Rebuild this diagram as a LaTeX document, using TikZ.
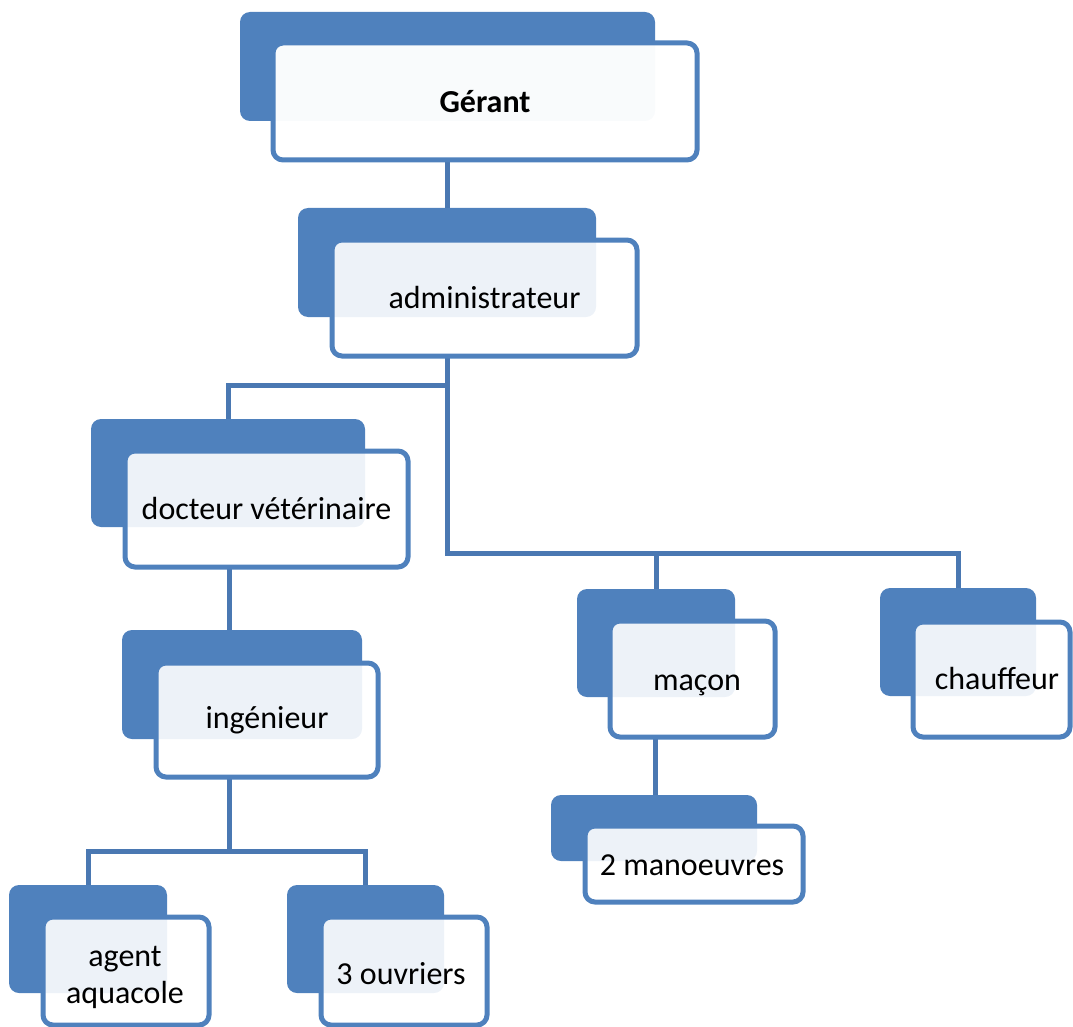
\documentclass[tikz,border=0pt]{standalone}
\usepackage{fontspec}
\setmainfont{Carlito}
\definecolor{boxblue}{HTML}{4F81BD}
\definecolor{lineblue}{HTML}{4A78B2}
\tikzset{
  backbox/.style={fill=boxblue, rounded corners=10pt, inner sep=0pt, outer sep=0pt, anchor=north west},
  frontbox/.style={draw=boxblue, line width=5pt, fill=white, fill opacity=0.9, text opacity=1, draw opacity=1,
     rounded corners=10pt, inner sep=0pt, outer sep=0pt, align=center, anchor=north west,
     font=\fontsize{32}{37}\selectfont},
  txt/.style={inner sep=0pt, align=center, font=\fontsize{32}{37}\selectfont},
  conn/.style={draw=lineblue, line width=5pt}
}
\begin{document}
\begin{tikzpicture}[x=1pt,y=-1pt]
\useasboundingbox (0,0) rectangle (1073,1027);
% back boxes
\node[backbox, minimum width=415pt, minimum height=109pt] (gb) at (240,12) {};
\node[backbox, minimum width=298pt, minimum height=109pt] (ab) at (298,208) {};
\node[backbox, minimum width=274pt, minimum height=108pt] (db) at (91,419) {};
\node[backbox, minimum width=240pt, minimum height=109pt] (ib) at (122,630) {};
\node[backbox, minimum width=158pt, minimum height=108pt] (mb) at (577,589) {};
\node[backbox, minimum width=156pt, minimum height=108pt] (cb) at (880,588) {};
\node[backbox, minimum width=206pt, minimum height=66pt] (mmb) at (551,795) {};
\node[backbox, minimum width=158pt, minimum height=108pt] (agb) at (9,885) {};
\node[backbox, minimum width=157pt, minimum height=108pt] (ob) at (287,885) {};
% helper coordinates
\coordinate (t1) at (447,0);
\coordinate (t2) at (229,0);
\coordinate (t3) at (655,0);
\coordinate (bus1) at (0,385);
\coordinate (bus2) at (0,553);
\coordinate (bus3) at (0,851);
\coordinate (gbot) at (447,160);
\coordinate (abot) at (447,356);
\coordinate (dbot) at (229,567);
\coordinate (ibot) at (229,777);
\coordinate (mbot) at (655,737);
% connectors (behind the front boxes)
\draw[conn] (gbot) -- (ab.north -| t1);
\draw[conn] (abot) -- (t1 |- bus2) -| (cb.north);
\draw[conn] (t1 |- bus2) -| (mb.north);
\draw[conn] (t1 |- bus1) -| (db.north);
\draw[conn] (dbot) -- (ib.north -| t2);
\draw[conn] (ibot) -- (t2 |- bus3) -| (agb.north);
\draw[conn] (t2 |- bus3) -| (ob.north);
\draw[conn] (mbot) -- (mmb.north -| t3);
% front boxes
\node[frontbox, fill opacity=0.97, minimum width=424pt, minimum height=117pt, font=\fontsize{32}{37}\selectfont\bfseries] (g) at (273,43) {Gérant};
\node[frontbox, minimum width=305pt, minimum height=116pt] (a) at (332,240) {administrateur};
\node[frontbox, minimum width=283pt, minimum height=116pt] (d) at (125,451) {docteur vétérinaire};
\node[frontbox, minimum width=222pt, minimum height=114pt] (i) at (156,663) {ingénieur};
\node[frontbox, minimum width=165pt, minimum height=116pt] (m) at (610,621) {};
\node[txt, anchor=base] (mt) at (697,690) {maçon};
\node[frontbox, minimum width=157pt, minimum height=115pt] (c) at (913,622) {};
\node[txt, anchor=base] (ct) at (997,689) {chauffeur};
\node[frontbox, minimum width=218pt, minimum height=76pt] (mm) at (585,826) {};
\node[txt, anchor=base] (mmt) at (692,875) {2 manoeuvres};
\node[frontbox, minimum width=166pt, minimum height=108pt] (ag) at (43,917) {};
\node[txt] (agt) at (125,977) {agent\\aquacole};
\node[frontbox, minimum width=166pt, minimum height=108pt] (o) at (321,917) {};
\node[txt, anchor=base] (ot) at (401,984) {3 ouvriers};
\end{tikzpicture}
\end{document}
